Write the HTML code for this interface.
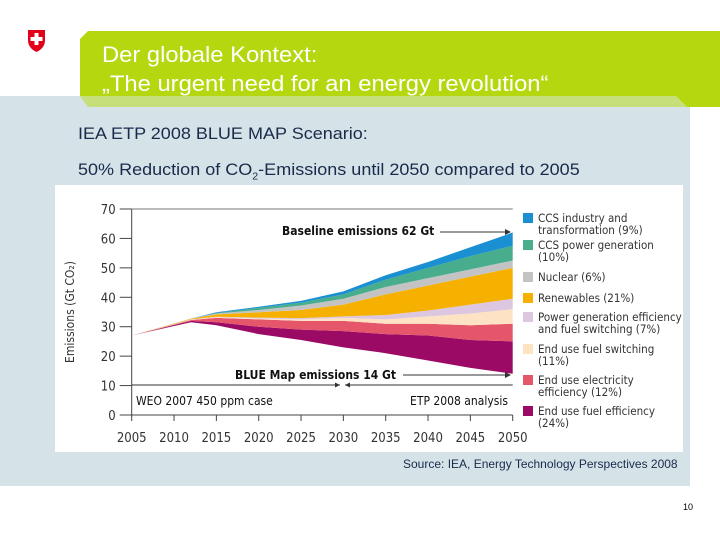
<!DOCTYPE html>
<html><head><meta charset="utf-8"><style>
body{margin:0;width:720px;height:540px;position:relative;background:#fff;font-family:"Liberation Sans",sans-serif;overflow:hidden}
.abs{position:absolute}
</style></head><body>
<svg class="abs" style="left:0;top:0" width="720" height="540">
<rect x="0" y="96" width="690" height="390" fill="#d5e3e9"/>
<polygon points="88,31 720,31 720,107 687,107 676,96 88,96 80,96 80,39" fill="#b4d70f"/>
<polygon points="80,96 676,96 687,107 88,107" fill="#c6df7a"/>
<rect x="55" y="185" width="628" height="267" fill="#fff"/>
<path d="M28,30 h17 v10 q0,8 -8.5,12 q-8.5,-4 -8.5,-12z" fill="#e2001a"/>
<rect x="34.5" y="33" width="4" height="12" fill="#fff"/><rect x="30.5" y="37" width="12" height="4" fill="#fff"/>
</svg>
<div class="abs" style="left:102px;top:40px;color:#fff;font-size:22px;line-height:29px;transform:scaleX(1.08);transform-origin:left top;white-space:nowrap">Der globale Kontext:<br>„The urgent need for an energy revolution“</div>
<div class="abs" style="left:78px;top:124px;font-size:17px;color:#1a2a4a;transform:scaleX(1.06);transform-origin:left top;white-space:nowrap">IEA ETP 2008 BLUE MAP Scenario:</div>
<div class="abs" style="left:78px;top:160px;font-size:17px;color:#1a2a4a;transform:scaleX(1.06);transform-origin:left top;white-space:nowrap">50% Reduction of CO<sub style="font-size:10px">2</sub>-Emissions until 2050 compared to 2005</div>
<div class="abs" style="left:403px;top:457px;font-size:12px;color:#1a2a4a">Source: IEA, Energy Technology Perspectives 2008</div>
<div class="abs" style="left:683px;top:502px;font-size:9px;color:#000">10</div>
<svg id="chart" class="abs" style="left:0;top:0" width="720" height="540"></svg>
<script>
const years=[2005,2012,2015,2020,2025,2030,2035,2040,2045,2050];
const blueMap=[27,31.5,30.5,27.5,25.5,23,21,18.5,16,14];
const fuelEff=[0,0.5,1,2.5,3.5,5.5,6.5,8.5,9.5,11];
const elecEff=[0,0.3,1.5,2.5,3,3.5,3.5,4,5,6];
const fuelSw=[0,0.1,0.2,0.3,0.5,1,1.5,2.5,4,5];
const powerEff=[0,0.1,0.2,0.3,0.4,0.5,1.5,2,3,3.5];
const renew=[0,0.2,0.8,1.8,2.8,4,7,8.5,9.5,10.5];
const nuclear=[0,0.1,0.3,0.8,1.5,2,2.5,2.5,2.5,2.5];
const ccsPower=[0,0,0.2,0.7,1,1.5,2.5,3.5,4.5,5];
const ccsInd=[0,0,0.2,0.4,0.6,1,1.5,2,3,4.5];
const yTicks=[0,10,20,30,40,50,60,70];
const xTicks=[2005,2010,2015,2020,2025,2030,2035,2040,2045,2050];
const seriesNames=["End use fuel efficiency","End use electricity efficiency","End use fuel switching","Power generation efficiency","Renewables","Nuclear","CCS power generation","CCS industry"];
const legendLines=[["CCS industry and","transformation (9%)"],["CCS power generation","(10%)"],["Nuclear (6%)"],["Renewables (21%)"],["Power generation efficiency","and fuel switching (7%)"],["End use fuel switching","(11%)"],["End use electricity","efficiency (12%)"],["End use fuel efficiency","(24%)"]];
const series=[fuelEff,elecEff,fuelSw,powerEff,renew,nuclear,ccsPower,ccsInd];
const colors=["#9b0a64","#e5566a","#fde3c4","#dcc6e0","#f6b100","#c3c3c3","#48ad8c","#1a8fd2"];
const NS="http://www.w3.org/2000/svg";
const svg=document.getElementById('chart');
const X0=131.7,X1=512.7,Y0=415,Y70=209;
const xs=v=>X0+(v-2005)*(X1-X0)/45;
const ys=v=>Y0-v*(Y0-Y70)/70;
function mk(t,a){const e=document.createElementNS(NS,t);for(const k in a)e.setAttribute(k,a[k]);svg.appendChild(e);return e;}
let lower=blueMap.slice();
series.forEach((s,i)=>{
  const upper=lower.map((v,j)=>v+s[j]);
  let d="M"+years.map((y,j)=>xs(y)+","+ys(upper[j])).join("L");
  d+="L"+years.slice().reverse().map((y,k)=>{const j=years.length-1-k;return xs(y)+","+ys(lower[j]);}).join("L")+"Z";
  const p=mk("path",{d:d,fill:colors[i]});
  
  
  lower=upper;
});
mk("line",{x1:X0,y1:Y0,x2:X1,y2:Y0,stroke:"#444","stroke-width":1});
mk("line",{x1:X0,y1:Y0,x2:X0,y2:Y70,stroke:"#444","stroke-width":1});
mk("line",{x1:X0,y1:Y70,x2:X1,y2:Y70,stroke:"#777","stroke-width":1});
yTicks.forEach(v=>{
  mk("line",{x1:X0-12,y1:ys(v),x2:X0,y2:ys(v),stroke:"#444"});
  const t=mk("text",{x:X0-16,y:ys(v)+5,"text-anchor":"end","font-size":13,fill:"#333","font-family":"DejaVu Sans Condensed, Liberation Sans, sans-serif"});
  t.textContent=v;
  
  
});
xTicks.forEach(v=>{
  mk("line",{x1:xs(v),y1:Y0,x2:xs(v),y2:Y0+6,stroke:"#444"});
  const t=mk("text",{x:xs(v),y:Y0+27,"text-anchor":"middle","font-size":13,fill:"#333","font-family":"DejaVu Sans Condensed, Liberation Sans, sans-serif"});
  t.textContent=v;
  
  
});
const yt=mk("text",{transform:"translate(74,312) rotate(-90)","text-anchor":"middle","font-size":12,fill:"#333","font-family":"DejaVu Sans Condensed, Liberation Sans, sans-serif"});
yt.textContent="Emissions (Gt CO₂)";


function ann(txt,x,y,opts){const t=mk("text",Object.assign({x:x,y:y,"font-size":12,fill:"#111","font-family":"DejaVu Sans Condensed, Liberation Sans, sans-serif"},opts||{}));t.textContent=txt;return t;}
const a1=ann("Baseline emissions 62 Gt",282,235,{"font-weight":"bold"});


mk("line",{x1:440,y1:232,x2:508,y2:232,stroke:"#333"});
mk("path",{d:"M511,232 l-6,-3 v6z",fill:"#333"});
const a2=ann("BLUE Map emissions 14 Gt",235,379,{"font-weight":"bold"});


mk("line",{x1:403,y1:375,x2:508,y2:375,stroke:"#333"});
mk("path",{d:"M511,375 l-6,-3 v6z",fill:"#333"});
mk("line",{x1:X0,y1:385,x2:340,y2:385,stroke:"#333"});
mk("line",{x1:345,y1:385,x2:X1,y2:385,stroke:"#333"});
mk("path",{d:"M340,385 l-5,-2.5 v5z",fill:"#333"});
mk("path",{d:"M345,385 l5,-2.5 v5z",fill:"#333"});
const a3=ann("WEO 2007 450 ppm case",136,405);


const a4=ann("ETP 2008 analysis",508,405,{"text-anchor":"end"});


const legY=[213,240,272,293,312,344,375,406];
legendLines.forEach((lines,i)=>{
  const c=colors[7-i];
  const r=mk("rect",{x:523,y:legY[i],width:10,height:10,fill:c});
  
  
  lines.forEach((ln,k)=>{
    const t=mk("text",{x:538,y:legY[i]+9+k*12,"font-size":11.5,fill:"#333","font-family":"DejaVu Sans Condensed, Liberation Sans, sans-serif"});
    t.textContent=ln;
    
    
  });
});
</script>
</body></html>
